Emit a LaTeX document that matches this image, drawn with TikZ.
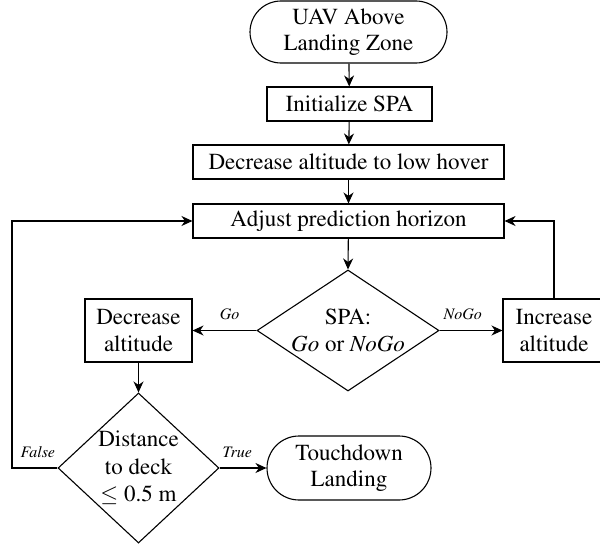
\documentclass[tikz,border=0pt]{standalone}
\usepackage[T1]{fontenc}
\usepackage{mathptmx}
\usetikzlibrary{shapes.geometric,arrows.meta}
\begin{document}
\begin{tikzpicture}[x=1pt,y=-1pt,
  every node/.style={font=\rmfamily\fontsize{23}{26.5}\selectfont},
  base/.style={draw, line width=1.1pt, inner sep=0pt, align=center},
  boxnode/.style={base, rectangle},
  termnode/.style={base, rectangle, rounded corners=31pt},
  decnode/.style={base, diamond},
  arr/.style={line width=1.1pt, -{Stealth[length=11pt,width=10pt,inset=3.5pt]}},
  lbl/.style={font=\rmfamily\fontsize{16}{18}\selectfont\itshape, inner sep=2pt}
]
\useasboundingbox (0,0) rectangle (600,546);

\node[termnode, minimum width=197pt, minimum height=62pt] (start) at (348.5,32) {UAV Above\\Landing Zone};
\node[boxnode, minimum width=165pt, minimum height=34pt] (init) at (349.5,104) {Initialize SPA};
\node[boxnode, minimum width=311pt, minimum height=34pt] (hover) at (348.5,162) {Decrease altitude to low hover};
\node[boxnode, minimum width=311pt, minimum height=34pt] (adjust) at (348.5,221) {Adjust prediction horizon};
\node[decnode, minimum width=182pt, minimum height=121pt,
  label={[align=center, font=\rmfamily\fontsize{23}{27}\selectfont]center:SPA:\\\textit{Go} or \textit{NoGo}}] (spa) at (348,330.5) {};
\node[boxnode, minimum width=107pt, minimum height=63pt] (dec) at (138.5,330.5) {Decrease\\altitude};
\node[boxnode, minimum width=102pt, minimum height=63pt] (inc) at (554,330.5) {Increase\\altitude};
\node[decnode, minimum width=161pt, minimum height=150pt,
  label={[align=center, font=\rmfamily\fontsize{23}{27.5}\selectfont]center:Distance\\to deck\\$\leq$ 0.5 m}] (dist) at (138.5,468) {};
\node[termnode, rounded corners=32pt, minimum width=164pt, minimum height=64pt] (touch) at (349,468) {Touchdown\\Landing};

\coordinate (lcorner) at (12,468);

\draw[arr] (start) -- (init);
\draw[arr] (init) -- (hover);
\draw[arr] (hover) -- (adjust);
\draw[arr] (adjust) -- (spa.north);
\draw[arr] (spa.west) -- node[lbl, above=8pt, pos=0.42] {Go} (dec.east);
\draw[arr] (spa.east) -- node[lbl, above=8pt, pos=0.37] {NoGo} (inc.west);
\draw[arr] (dec.south) -- (dist.north);
\draw[arr] (dist.east) -- node[lbl, above=8pt, pos=0.38] {True} (touch.west);
\draw[arr] (dist.west) -- node[lbl, above=8pt, pos=0.43] {False} (lcorner) |- (adjust.west);
\draw[arr] (inc.north) |- (adjust.east);
\end{tikzpicture}
\end{document}
